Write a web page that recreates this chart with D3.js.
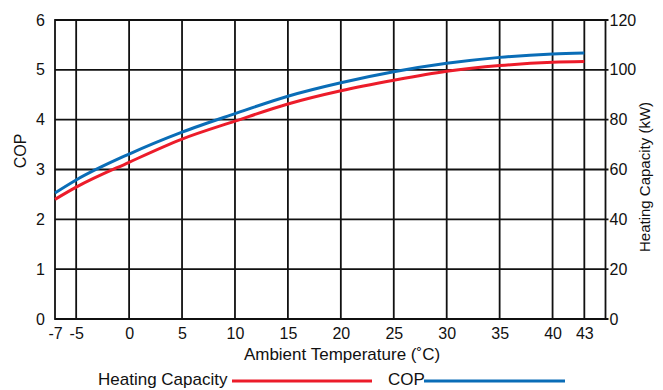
<!DOCTYPE html>
<html>
<head>
<meta charset="utf-8">
<script src="https://cdn.jsdelivr.net/npm/d3@7"></script>
<style>
  body { margin: 0; background: #fff; }
  text { font-family: "Liberation Sans", Arial, sans-serif; fill: #111; }
</style>
</head>
<body>
<svg id="chart"></svg>
<script>
// data
const temps = [-7, -5, 0, 5, 10, 15, 20, 25, 30, 35, 40, 43];
const cop = [2.53, 2.79, 3.31, 3.75, 4.12, 4.47, 4.74, 4.96, 5.13, 5.25, 5.32, 5.34];
const capacity = [48, 52.9, 62.9, 72.2, 79.4, 86.3, 91.6, 95.8, 99.4, 101.7, 103, 103.3];
const xTicks = [-7, -5, 0, 5, 10, 15, 20, 25, 30, 35, 40, 43];
const copTicks = [0, 1, 2, 3, 4, 5, 6];
const capTicks = [0, 20, 40, 60, 80, 100, 120];

const width = 663, height = 390;
const plotLeft = 55, plotRight = 605.5, plotTop = 20, plotBottom = 319;

const copColor = '#0a6db7';
const capColor = '#ec1c2a';

const svg = d3.select('#chart')
    .attr('width', width)
    .attr('height', height);

const x = d3.scaleLinear().domain([-7, 45]).range([plotLeft, plotRight]);
const yCop = d3.scaleLinear().domain([0, 6]).range([plotBottom, plotTop]);
const yCap = d3.scaleLinear().domain([0, 120]).range([plotBottom, plotTop]);

// grid
const grid = svg.append('g').attr('stroke', '#111').attr('stroke-width', 1.8);
grid.selectAll('line.v')
    .data(xTicks.filter(d => d !== -7))
    .join('line')
    .attr('class', 'v')
    .attr('x1', d => x(d)).attr('x2', d => x(d))
    .attr('y1', plotTop).attr('y2', plotBottom);
grid.selectAll('line.h')
    .data(copTicks)
    .join('line')
    .attr('class', 'h')
    .attr('x1', plotLeft).attr('x2', plotRight + 3)
    .attr('y1', d => yCop(d)).attr('y2', d => yCop(d));
grid.append('rect')
    .attr('x', plotLeft).attr('y', plotTop)
    .attr('width', plotRight - plotLeft).attr('height', plotBottom - plotTop)
    .attr('fill', 'none');

// left axis
const leftAxis = svg.append('g')
    .attr('transform', `translate(${plotLeft}, 0)`)
    .call(d3.axisLeft(yCop).tickValues(copTicks).tickSize(0).tickPadding(10)
        .tickFormat(d3.format('d')));
leftAxis.select('.domain').remove();
leftAxis.selectAll('text').attr('font-size', '16px').attr('fill', '#111');

// right axis
const rightAxis = svg.append('g')
    .attr('transform', `translate(${plotRight}, 0)`)
    .call(d3.axisRight(yCap).tickValues(capTicks).tickSize(0).tickPadding(4));
rightAxis.select('.domain').remove();
rightAxis.selectAll('text').attr('font-size', '16px').attr('fill', '#111');

// bottom axis
const bottomAxis = svg.append('g')
    .attr('transform', `translate(0, ${plotBottom})`)
    .call(d3.axisBottom(x).tickValues(xTicks).tickSize(0).tickPadding(9)
        .tickFormat(d => d < 0 ? '-' + Math.abs(d) : d));
bottomAxis.select('.domain').remove();
bottomAxis.selectAll('text').attr('font-size', '16px').attr('fill', '#111');

// curves
const copLine = d3.line()
    .x((d, i) => x(temps[i]))
    .y(d => yCop(d))
    .curve(d3.curveMonotoneX);
const capLine = d3.line()
    .x((d, i) => x(temps[i]))
    .y(d => yCap(d))
    .curve(d3.curveMonotoneX);

svg.append('path')
    .datum(capacity)
    .attr('d', capLine)
    .attr('fill', 'none')
    .attr('stroke', capColor)
    .attr('stroke-width', 3);

svg.append('path')
    .datum(cop)
    .attr('d', copLine)
    .attr('fill', 'none')
    .attr('stroke', copColor)
    .attr('stroke-width', 3);

// axis titles
svg.append('text')
    .attr('transform', 'translate(26, 151) rotate(-90)')
    .attr('text-anchor', 'middle')
    .attr('font-size', '16px')
    .text('COP');

svg.append('text')
    .attr('transform', 'translate(650, 177) rotate(-90)')
    .attr('text-anchor', 'middle')
    .attr('font-size', '15px')
    .text('Heating Capacity (kW)');

svg.append('text')
    .attr('x', 342)
    .attr('y', 360)
    .attr('text-anchor', 'middle')
    .attr('font-size', '17px')
    .text('Ambient Temperature (˚C)');

// legend
svg.append('text')
    .attr('x', 98).attr('y', 385)
    .attr('font-size', '17px')
    .text('Heating Capacity');
svg.append('line')
    .attr('x1', 232).attr('x2', 372)
    .attr('y1', 381).attr('y2', 381)
    .attr('stroke', capColor).attr('stroke-width', 3);

svg.append('text')
    .attr('x', 388).attr('y', 385)
    .attr('font-size', '17px')
    .text('COP');
svg.append('line')
    .attr('x1', 424).attr('x2', 565)
    .attr('y1', 381).attr('y2', 381)
    .attr('stroke', copColor).attr('stroke-width', 3);
</script>
</body>
</html>
